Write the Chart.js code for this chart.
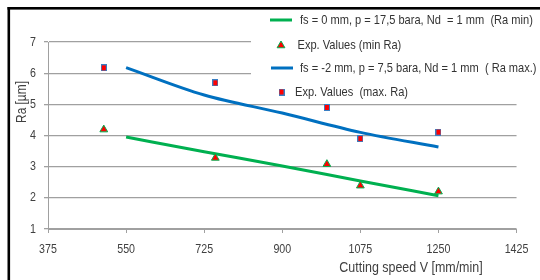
<!DOCTYPE html>
<html>
<head>
<meta charset="utf-8">
<script src="https://cdn.jsdelivr.net/npm/chart.js@4.4.1/dist/chart.umd.min.js"></script>
<style>
html,body{margin:0;padding:0;background:#fff;}
#wrap{position:relative;width:540px;height:280px;}
</style>
</head>
<body>
<div id="wrap"><canvas id="c" width="540" height="280"></canvas></div>
<script>
// ---- data ----
const vLine      = [550, 725, 900, 1075, 1250];
const raMinLine  = [3.95, 3.48, 3.02, 2.54, 2.07];
const raMaxLine  = [6.18, 5.30, 4.72, 4.10, 3.63];
const vExp       = [500, 750, 1000, 1075, 1250];
const raMinExp   = [4.19, 3.28, 3.08, 2.39, 2.20];
const raMaxExp   = [6.17, 5.69, 4.90, 3.90, 4.11];
const xTicks     = [375, 550, 725, 900, 1075, 1250, 1425];
const yTicks     = [1, 2, 3, 4, 5, 6, 7];
const legendLabels = [
  'fs = 0 mm, p = 17,5 bara, Nd  = 1 mm  (Ra min)',
  'Exp. Values (min Ra)',
  'fs = -2 mm, p = 7,5 bara, Nd = 1 mm  ( Ra max.)',
  'Exp. Values  (max. Ra)'
];
const xTitle = 'Cutting speed V [mm/min]';
const yTitle = 'Ra [µm]';

const GREEN = '#00b050', BLUE = '#0070c0', RED = '#ff0000';
const FAMILY = "'Liberation Sans', Arial, sans-serif";
const TXT = '#404040';
const SX = 0.82; // horizontal condensing of all text

function pts(xs, ys){ return xs.map((x,i)=>({x:x, y:ys[i]})); }

// custom square marker (slightly taller than wide)
const sq = document.createElement('canvas');
sq.width = 6; sq.height = 7;
(function(){ const g = sq.getContext('2d'); g.fillStyle = '#3a7fc4'; g.fillRect(0,0,6,7); g.fillStyle = RED; g.fillRect(1,1,4,5); })();

const condense = {
  id: 'condense',
  beforeInit(chart){
    const ctx = chart.ctx;
    const orig = ctx.fillText.bind(ctx);
    ctx.fillText = function(t, x, y){
      ctx.save(); ctx.translate(x, y); ctx.scale(SX, 1); orig(t, 0, 0); ctx.restore();
    };
  }
};

const decor = {
  id: 'decor',
  beforeDatasetsDraw(chart){
    const ctx = chart.ctx;
    ctx.save();
    ctx.fillStyle = '#fff';
    ctx.fillRect(251, 0, 289, 100);
    ctx.restore();
  },
  afterDraw(chart){
    const ctx = chart.ctx;
    ctx.save();
    // frame
    ctx.fillStyle = '#000';
    ctx.fillRect(7.5, 7, 533, 2.6);
    ctx.fillRect(7.5, 7, 2.6, 273);
    // axis titles
    ctx.fillStyle = TXT;
    ctx.textAlign = 'center';
    ctx.textBaseline = 'middle';
    ctx.font = '15.2px ' + FAMILY;
    ctx.fillText(xTitle, 411, 268);
    ctx.save();
    ctx.translate(21.5, 102);
    ctx.rotate(-Math.PI/2);
    ctx.font = '14.5px ' + FAMILY;
    ctx.fillText(yTitle, 0, 0);
    ctx.restore();
    // legend
    const rows = [20, 45, 68, 92];
    ctx.lineWidth = 3;
    ctx.strokeStyle = GREEN;
    ctx.beginPath(); ctx.moveTo(270, rows[0]); ctx.lineTo(292, rows[0]); ctx.stroke();
    ctx.strokeStyle = BLUE;
    ctx.beginPath(); ctx.moveTo(271, rows[2]); ctx.lineTo(293, rows[2]); ctx.stroke();
    // triangle marker
    ctx.fillStyle = RED; ctx.strokeStyle = GREEN; ctx.lineWidth = 1;
    ctx.beginPath();
    const r = 4.5, ty = rows[1] + 0.5;
    ctx.moveTo(281, ty - r); ctx.lineTo(281 + r*0.866, ty + r*0.5); ctx.lineTo(281 - r*0.866, ty + r*0.5); ctx.closePath();
    ctx.fill(); ctx.stroke();
    ctx.drawImage(sq, 278.5, rows[3] - 3.5);
    ctx.fillStyle = '#333';
    ctx.textAlign = 'left';
    ctx.font = '13.5px ' + FAMILY;
    ctx.fillText(legendLabels[0], 300, rows[0]);
    ctx.fillText(legendLabels[1], 297.5, rows[1]);
    ctx.fillText(legendLabels[2], 300, rows[2]);
    ctx.fillText(legendLabels[3], 295, rows[3]);
    ctx.restore();
  }
};

Chart.defaults.font.family = FAMILY;
Chart.defaults.font.size = 13;
Chart.defaults.color = TXT;

new Chart(document.getElementById('c'), {
  type: 'scatter',
  data: {
    datasets: [
      { label: legendLabels[1], data: pts(vExp, raMinExp), pointStyle: 'triangle', pointRadius: 4.5,
        backgroundColor: RED, borderColor: GREEN, borderWidth: 1, showLine: false },
      { label: legendLabels[3], data: pts(vExp, raMaxExp), pointStyle: sq, pointRadius: 4,
        backgroundColor: RED, borderColor: BLUE, borderWidth: 1, showLine: false },
      { label: legendLabels[0], data: pts(vLine, raMinLine), showLine: true, pointRadius: 0,
        borderColor: GREEN, borderWidth: 3, cubicInterpolationMode: 'monotone', fill: false },
      { label: legendLabels[2], data: pts(vLine, raMaxLine), showLine: true, pointRadius: 0,
        borderColor: BLUE, borderWidth: 3, cubicInterpolationMode: 'monotone', fill: false }
    ]
  },
  options: {
    responsive: false,
    animation: false,
    devicePixelRatio: 1,
    layout: { padding: { left: 0, top: 42, right: 13, bottom: 0 } },
    plugins: { legend: { display: false }, tooltip: { enabled: false } },
    scales: {
      x: {
        type: 'linear', min: 375, max: 1425,
        afterBuildTicks: s => { s.ticks = xTicks.map(v => ({ value: v })); },
        afterFit: s => { s.height = 51; },
        ticks: { padding: 9, color: TXT, maxRotation: 0, autoSkip: false, callback: v => String(v) },
        grid: { drawOnChartArea: false, drawTicks: true, tickLength: 4, color: '#a0a0a0', lineWidth: 1 },
        border: { color: '#a0a0a0', width: 1 }
      },
      y: {
        type: 'linear', min: 1, max: 7,
        afterBuildTicks: s => { s.ticks = yTicks.map(v => ({ value: v })); },
        afterFit: s => { s.width = 48; },
        ticks: { padding: 8, color: TXT, callback: v => String(v) },
        grid: { drawTicks: true, tickLength: 4, color: '#a0a0a0', lineWidth: 1.3 },
        border: { color: '#a0a0a0', width: 1 }
      }
    }
  },
  plugins: [condense, decor]
});
</script>
</body>
</html>
